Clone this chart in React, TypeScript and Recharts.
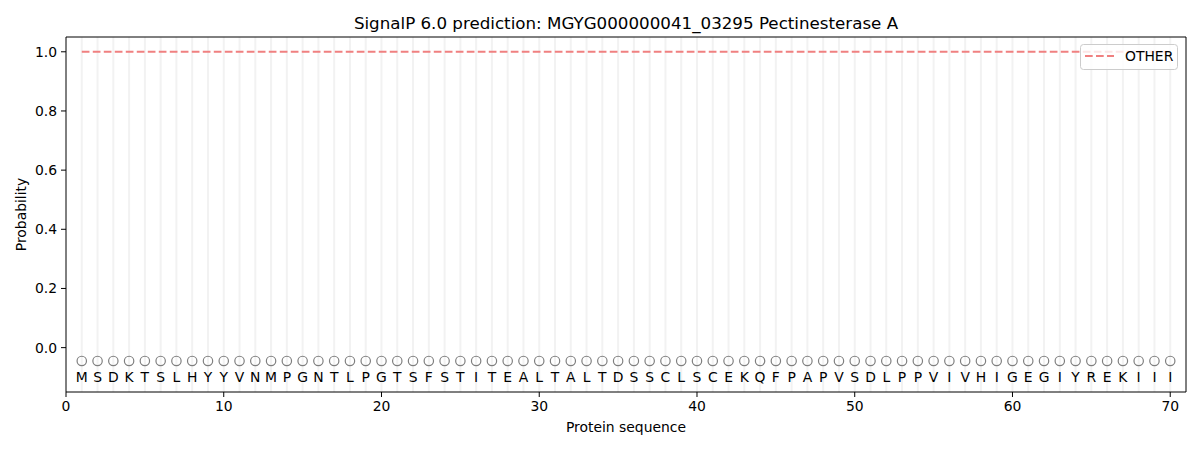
import React from 'react';
import { ComposedChart, Line, Scatter, XAxis, YAxis, ReferenceLine } from 'recharts';

const sequence = [
  'M','S','D','K','T','S','L','H','Y','Y','V','N','M','P','G','N','T','L','P','G',
  'T','S','F','S','T','I','T','E','A','L','T','A','L','T','D','S','S','C','L','S',
  'C','E','K','Q','F','P','A','P','V','S','D','L','P','P','V','I','V','H','I','G',
  'E','G','I','Y','R','E','K','I','I','I',
];

const otherProb = [
  1.0,1.0,1.0,1.0,1.0,1.0,1.0,1.0,1.0,1.0,1.0,1.0,1.0,1.0,1.0,1.0,1.0,1.0,1.0,1.0,
  1.0,1.0,1.0,1.0,1.0,1.0,1.0,1.0,1.0,1.0,1.0,1.0,1.0,1.0,1.0,1.0,1.0,1.0,1.0,1.0,
  1.0,1.0,1.0,1.0,1.0,1.0,1.0,1.0,1.0,1.0,1.0,1.0,1.0,1.0,1.0,1.0,1.0,1.0,1.0,1.0,
  1.0,1.0,1.0,1.0,1.0,1.0,1.0,1.0,1.0,1.0,
];

const xTicks = [0, 10, 20, 30, 40, 50, 60, 70];
const yTicks = [0, 0.2, 0.4, 0.6, 0.8, 1.0];
const xDomain = [0, 71];
const yDomain = [-0.15, 1.05];
const markerLevel = -0.045;
const letterLevel = -0.1;

const rows = sequence.map((aa, i) => ({
  pos: i + 1,
  aa,
  other: otherProb[i],
  marker: markerLevel,
  letter: letterLevel,
}));

const FONT = '"DejaVu Sans", sans-serif';

const CircleShape = (props: any) => {
  const { cx, cy } = props;
  if (cx == null || cy == null) return null;
  return <circle cx={cx} cy={cy} r={4.7} fill="none" stroke="#7f7f7f" strokeWidth={1.2} />;
};

const LetterShape = (props: any) => {
  const { cx, cy, payload } = props;
  if (cx == null || cy == null) return null;
  return (
    <text x={cx} y={cy + 4.5} textAnchor="middle" fontFamily={FONT} fontSize={13.9} fill="#000">
      {payload.aa}
    </text>
  );
};

export default function App() {
  return (
    <div style={{ position: 'absolute', left: 0, top: 0, width: 1200, height: 450, background: '#fff' }}>
      <ComposedChart
        width={1200}
        height={450}
        data={rows}
        margin={{ top: 37, right: 14, bottom: 28, left: 6 }}
      >
        {rows.map((r) => (
          <ReferenceLine key={'g' + r.pos} x={r.pos} stroke="#f2f2f2" strokeWidth={2} />
        ))}
        <XAxis
          dataKey="pos"
          type="number"
          domain={xDomain}
          ticks={xTicks}
          allowDataOverflow
          height={30}
          tickSize={5}
          tickMargin={4}
          stroke="#000"
          tick={{ fill: '#000', fontSize: 13.9, fontFamily: FONT }}
          label={{
            content: (p: any) => {
              const vb = p.viewBox || {};
              return (
                <text x={vb.x + vb.width / 2} y={432} textAnchor="middle" fontFamily={FONT} fontSize={13.9} fill="#000">
                  Protein sequence
                </text>
              );
            },
          }}
        />
        <YAxis
          type="number"
          domain={yDomain}
          ticks={yTicks}
          allowDataOverflow
          width={60}
          tickSize={5}
          tickMargin={4}
          stroke="#000"
          tickFormatter={(v: number) => v.toFixed(1)}
          tick={{ fill: '#000', fontSize: 13.9, fontFamily: FONT }}
          label={{
            content: (p: any) => {
              const vb = p.viewBox || {};
              const cy = vb.y + vb.height / 2;
              return (
                <text x={26} y={cy} transform={`rotate(-90 26 ${cy})`} textAnchor="middle" fontFamily={FONT} fontSize={13.9} fill="#000">
                  Probability
                </text>
              );
            },
          }}
        />
        <ReferenceLine y={yDomain[1]} stroke="#000" strokeWidth={1} />
        <ReferenceLine x={xDomain[1]} stroke="#000" strokeWidth={1} />
        <Line
          dataKey="other"
          stroke="#f08080"
          strokeWidth={2}
          strokeDasharray="7.7 3.3"
          dot={false}
          activeDot={false}
          isAnimationActive={false}
        />
        <Scatter dataKey="marker" shape={CircleShape} isAnimationActive={false} />
        <Scatter dataKey="letter" shape={LetterShape} isAnimationActive={false} />
      </ComposedChart>
      <svg width={1200} height={450} style={{ position: 'absolute', left: 0, top: 0, pointerEvents: 'none' }}>
        <text x={626} y={29} textAnchor="middle" fontFamily={FONT} fontSize={16.7} fill="#000">
          SignalP 6.0 prediction: MGYG000000041_03295 Pectinesterase A
        </text>
        <rect x={1080.5} y={44.5} width={97} height={25} rx={3} fill="#fff" fillOpacity={0.8} stroke="#cccccc" strokeWidth={1} />
        <line x1={1085} y1={56} x2={1114} y2={56} stroke="#f08080" strokeWidth={2} strokeDasharray="7.7 3.3" />
        <text x={1125} y={61} fontFamily={FONT} fontSize={13.9} fill="#000">OTHER</text>
      </svg>
    </div>
  );
}
